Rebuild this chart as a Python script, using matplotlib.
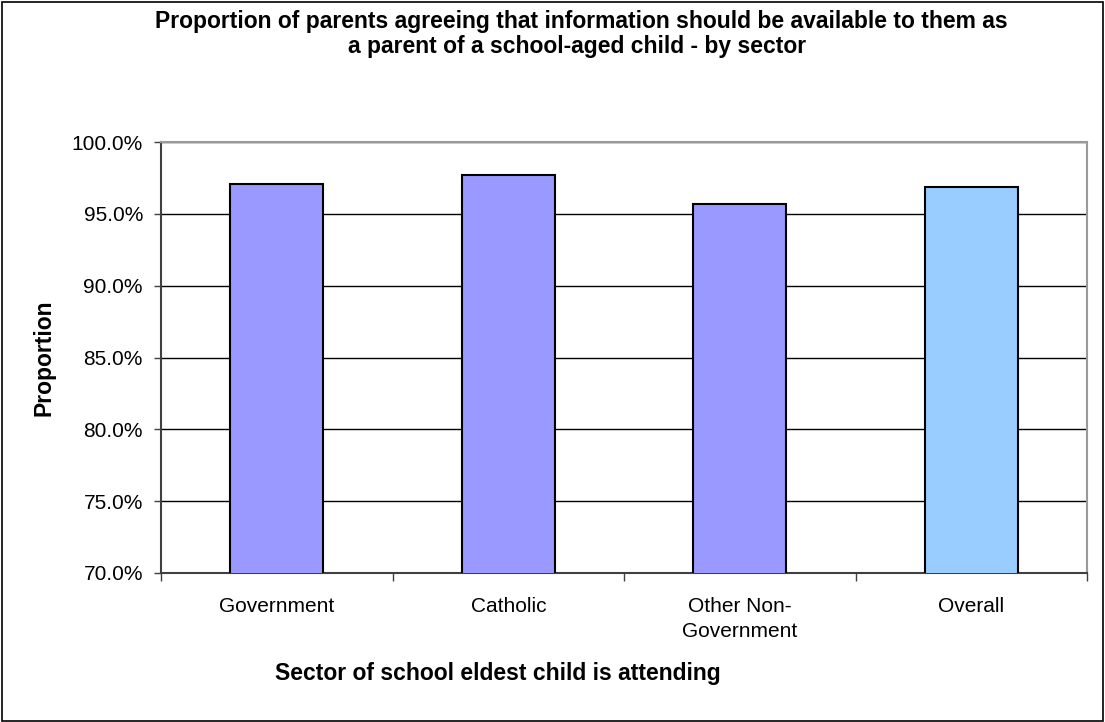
import numpy as np
import matplotlib.pyplot as plt
from matplotlib.ticker import FuncFormatter

plt.rcParams['font.family'] = ['Liberation Sans', 'DejaVu Sans']

# proportion agreeing, by sector of school
sectors = ['Government', 'Catholic', 'Other Non-\nGovernment', 'Overall']
agree = [97.1, 97.7, 95.7, 96.9]
bar_colours = ['#9999FF', '#9999FF', '#9999FF', '#99CCFF']

W, H = 1105, 722
fig = plt.figure(figsize=(W / 100, H / 100), dpi=100)
ax = fig.add_axes([161 / W, 1 - 573 / H, (1087 - 161) / W, (573 - 142) / H])

x = np.arange(len(sectors))
ax.bar(x, agree, width=0.4, color=bar_colours, edgecolor='black', linewidth=1.5, zorder=3)

ax.set_xlim(-0.5, len(sectors) - 0.5)
ax.set_ylim(70, 100)
ax.set_yticks(np.arange(70, 100.1, 5))
ax.yaxis.set_major_formatter(FuncFormatter(lambda v, p: '%.1f%%' % v))
ax.yaxis.grid(True, color='black', linewidth=1, zorder=1)

ax.set_xticks(x)
ax.set_xticklabels(sectors, linespacing=1.45)
ax.set_xticks(np.arange(-0.5, len(sectors), 1), minor=True)
ax.tick_params(axis='x', which='major', length=0, pad=17, labelsize=15)
ax.tick_params(axis='x', which='minor', length=6, width=1, color='#404040')
ax.tick_params(axis='y', length=5, width=1, color='#404040', pad=8, labelsize=15)

for side in ['top', 'right']:
    ax.spines[side].set_color('#9a9a9a')
    ax.spines[side].set_linewidth(1.5)
for side in ['left', 'bottom']:
    ax.spines[side].set_color('#404040')
    ax.spines[side].set_linewidth(1.5)

# y axis title
fig.text(44 / W, 1 - 358 / H, 'Proportion', rotation=90, ha='center', va='center',
         fontsize=16.5, fontweight='bold')

# x axis title
fig.text(498 / W, 1 - 680 / H, 'Sector of school eldest child is attending',
         ha='center', va='baseline', fontsize=16.5, fontweight='bold')

# chart title, two lines
fig.text(581 / W, 1 - 28 / H,
         'Proportion of parents agreeing that information should be available to them as',
         ha='center', va='baseline', fontsize=16.5, fontweight='bold')
fig.text(577 / W, 1 - 53 / H, 'a parent of a school-aged child - by sector',
         ha='center', va='baseline', fontsize=16.5, fontweight='bold')

# outer chart border
border = plt.Rectangle((2 / W, 1 / H), (W - 4) / W, (H - 3) / H, transform=fig.transFigure,
                       fill=False, edgecolor='black', linewidth=1.2)
fig.patches.append(border)

fig.savefig('out.png', dpi=100)
